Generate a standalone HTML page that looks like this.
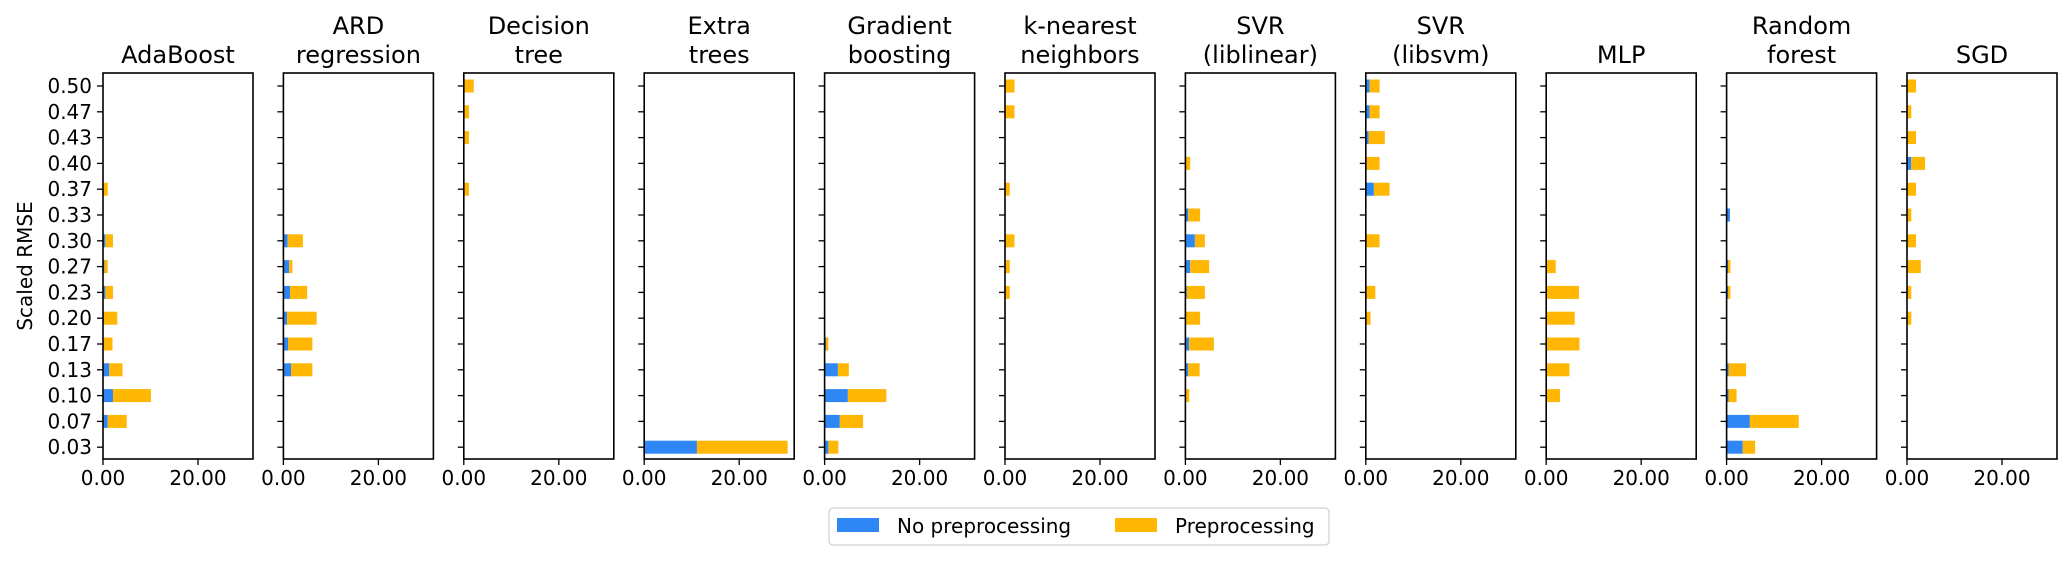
<!DOCTYPE html>
<html><head><meta charset="utf-8">
<style>
html,body{margin:0;padding:0;background:#fff;}
svg{display:block;font-family:"DejaVu Sans","Liberation Sans",sans-serif;}
</style></head>
<body>
<svg id="chart" width="2067" height="564" viewBox="0 0 2067 564"></svg>
<script>
const categories = ["0.50","0.47","0.43","0.40","0.37","0.33","0.30","0.27","0.23","0.20","0.17","0.13","0.10","0.07","0.03"];
const models = [["AdaBoost"],["ARD","regression"],["Decision","tree"],["Extra","trees"],["Gradient","boosting"],["k-nearest","neighbors"],["SVR","(liblinear)"],["SVR","(libsvm)"],["MLP"],["Random","forest"],["SGD"]];
const xTicks = [0, 20];
const xTickLabels = ["0.00", "20.00"];
// No preprocessing values (per model, rows top→bottom)
const noPre = [
 [0,0,0,0,0,0,0.5,0.3,0.5,0.2,0,1.3,2.1,1.0,0],
 [0,0,0,0,0,0,0.9,1.2,1.4,0.75,1.0,1.6,0,0,0],
 [0,0,0,0,0,0,0,0,0,0,0,0,0,0,0],
 [0,0,0,0,0,0,0,0,0,0,0,0,0,0,11.1],
 [0,0,0,0,0,0,0,0,0,0,0.3,2.8,4.9,3.2,0.8],
 [0,0,0,0,0,0,0,0,0,0,0,0,0,0,0],
 [0,0,0,0,0,0.6,2.0,1.0,0.3,0,0.8,0.6,0,0,0],
 [0.8,0.8,0.6,0.2,1.7,0,0,0,0,0,0,0,0,0,0],
 [0,0,0,0,0,0,0,0,0,0,0,0,0,0,0],
 [0,0,0,0,0,0.7,0,0.3,0.3,0,0,0.4,0.4,4.9,3.4],
 [0,0,0,0.9,0,0,0,0,0,0,0,0,0,0,0]
];
// Preprocessing values (stacked after no-preprocessing)
const pre = [
 [0,0,0,0,1.0,0,1.6,0.7,1.6,2.8,2.0,2.8,8.0,4.0,0],
 [0,0,0,0,0,0,3.2,0.7,3.6,6.25,5.1,4.5,0,0,0],
 [2.1,1.1,1.1,0,1.1,0,0,0,0,0,0,0,0,0,0],
 [0,0,0,0,0,0,0,0,0,0,0,0,0,0,19.1],
 [0,0,0,0,0,0,0,0,0,0,0.5,2.3,8.1,4.9,2.1],
 [2.0,2.0,0,0,1.0,0,2.0,1.0,1.0,0,0,0,0,0,0],
 [0,0,0,1.0,0,2.5,2.1,4.0,3.8,3.1,5.2,2.4,0.8,0,0],
 [2.1,2.1,3.4,2.7,3.3,0,2.9,0,2.0,1.0,0,0,0,0,0],
 [0,0,0,0,0,0,0,2.0,6.9,6.0,7.0,4.9,2.9,0,0],
 [0,0,0,0,0,0,0,0.5,0.5,0,0,3.7,1.7,10.3,2.6],
 [1.9,0.9,1.9,2.9,1.9,0.9,1.9,2.9,0.9,0.9,0,0,0,0,0]
];
const NS="http://www.w3.org/2000/svg";
const svg=document.getElementById('chart');
function mk(tag,attrs,parent){const e=document.createElementNS(NS,tag);for(const k in attrs)e.setAttribute(k,attrs[k]);(parent||svg).appendChild(e);return e;}
const L0=103, STEP=180.4, W=150, TOP=73, BOT=459, PXU=4.75, Y0=86, DY=25.8, BH=13;
function xS(p,v){return L0+p*STEP+v*PXU;}
function yS(i){return Y0+i*DY;}
models.forEach((m,p)=>{
  const g=mk('g',{});
  
  
  const left=L0+p*STEP;
  categories.forEach((c,i)=>{
    const b=noPre[p][i], o=pre[p][i], y=yS(i)-BH/2;
    if(b>0){const r=mk('rect',{x:xS(p,0),y:y,width:b*PXU,height:BH,fill:'#2f87f5'},g);
      
      }
    if(o>0){const r=mk('rect',{x:xS(p,b),y:y,width:o*PXU,height:BH,fill:'#ffb703'},g);
      
      }
    mk('line',{x1:left-6,x2:left,y1:yS(i),y2:yS(i),stroke:'#000','stroke-width':1.3},g);
    if(p===0){const t=mk('text',{x:left-11,y:yS(i)+7,'text-anchor':'end','font-size':20},g);t.textContent=c;
      
      }
  });
  mk('rect',{x:left,y:TOP,width:W,height:BOT-TOP,fill:'none',stroke:'#000','stroke-width':1.6},g);
  xTicks.forEach((v,k)=>{
    const x=xS(p,v);
    mk('line',{x1:x,x2:x,y1:BOT,y2:BOT+6,stroke:'#000','stroke-width':1.3},g);
    const t=mk('text',{x:x,y:BOT+26,'text-anchor':'middle','font-size':20},g);t.textContent=xTickLabels[k];
    
    
  });
  const cx=left+W/2;
  m.forEach((line,j)=>{
    const y = m.length===1 ? 63 : (j===0?34:63);
    const t=mk('text',{x:cx,y:y,'text-anchor':'middle','font-size':24},g);t.textContent=line;
    
    
  });
});
const yl=mk('text',{x:0,y:0,'text-anchor':'middle','font-size':20,transform:'translate(32,266) rotate(-90)'});
yl.textContent='Scaled RMSE';


const lg=mk('g',{});


mk('rect',{x:829,y:508,width:500,height:37,rx:4,fill:'#fff',stroke:'#d0d0d0','stroke-width':1.2},lg);
const e1=mk('g',{},lg);


mk('rect',{x:837,y:518,width:42,height:14,fill:'#2f87f5'},e1);
const t1=mk('text',{x:897,y:533,'font-size':20},e1);t1.textContent='No preprocessing';
const e2=mk('g',{},lg);


mk('rect',{x:1115,y:518,width:42,height:14,fill:'#ffb703'},e2);
const t2=mk('text',{x:1175,y:533,'font-size':20},e2);t2.textContent='Preprocessing';
</script>
</body></html>
